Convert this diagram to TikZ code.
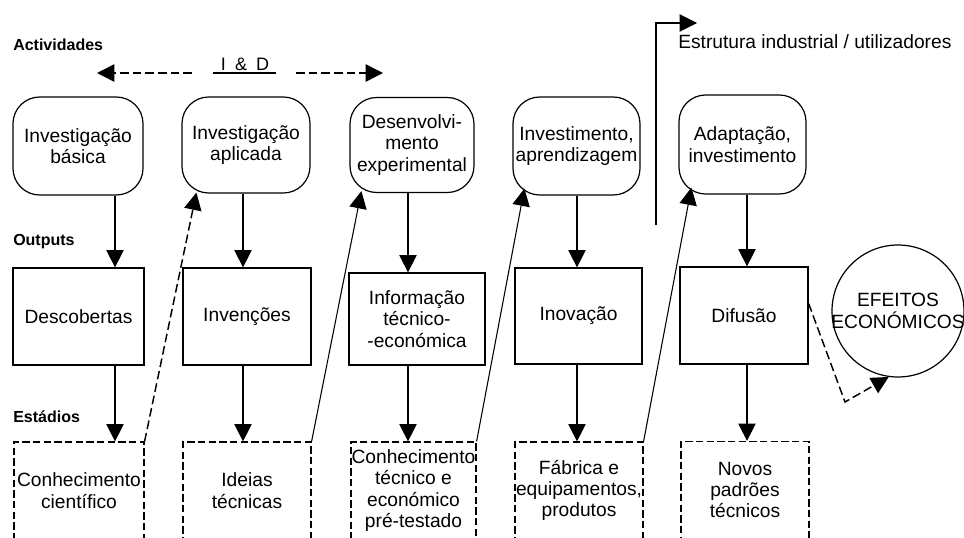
\documentclass[tikz,border=0pt]{standalone}
\usepackage{fontspec}
\setmainfont{Liberation Sans}
\usetikzlibrary{arrows.meta,calc}
\begin{document}
\begin{tikzpicture}[x=0.75pt,y=-0.75pt,
  every node/.style={font=\fontsize{14.4}{16}\selectfont, align=center, inner sep=0pt},
  sz/.style 2 args={minimum width={#1*0.75pt},minimum height={#2*0.75pt}},
  rbox/.style={draw, line width=0.9pt, rounded corners=20pt},
  obox/.style={draw, line width=0.9pt},
  dbox/.style={draw, line width=0.9pt, dash pattern=on 5.5pt off 2.5pt},
  arr/.style={line width=0.8pt, -{Triangle[length=13pt,width=13pt]}},
  dsh/.style={line width=1.1pt, dash pattern=on 6.5pt off 3pt},
  lbl/.style={font=\bfseries\fontsize{12}{14}\selectfont, anchor=west},
]
\useasboundingbox (0,0) rectangle (964,538);
\clip (0,0) rectangle (964,538);

% labels
\node[lbl] (act) at (13,45) {Actividades};
\node[lbl] (out) at (13,242) {Outputs};
\node[lbl] (est) at (13,417) {Estádios};

% I & D
\node[font=\fontsize{13.5}{15}\selectfont] (id) at (245,64) {I\hspace{0.5em}\&\hspace{0.5em}D};
\coordinate (u1) at (213,73);
\coordinate (u2) at (276,73);
\draw[line width=0.9pt] (u1) -- (u2);
\coordinate (a1) at (192,73);
\coordinate (a2) at (97,73);
\coordinate (a3) at (296,73);
\coordinate (a4) at (383,73);
\draw[arr,dsh] (a1) -- (a2);
\draw[arr,dsh] (a3) -- (a4);

% top row
\node[rbox, sz={130}{98}] (T1) at (78,146) {Investigação\\básica};
\node[rbox, sz={128}{96}] (T2) at (246,145) {Investigação\\aplicada};
\node[rbox, sz={124}{95}] (T3) at (412,145) {Desenvolvi-\\mento\\experimental};
\node[rbox, sz={127}{98}] (T4) at (576.5,146) {Investimento,\\aprendizagem};
\node[rbox, sz={127}{99}] (T5) at (742.5,144.5) {Adaptação,\\investimento};

% middle row
\node[obox, sz={131}{97}] (M1) at (78.5,316.5) {Descobertas};
\node[obox, sz={128}{97}] (M2) at (247,316.5) {Invenções};
\node[obox, sz={136}{92}] (M3) at (417,319) {Informação\\técnico-\\-económica};
\node[obox, sz={127}{96}] (M4) at (578.5,316) {Inovação};
\node[obox, sz={128}{97}] (M5) at (744,315.5) {Difusão};

% bottom row
\node[dbox, sz={130}{97}] (B1) at (79,490.5) {Conhecimento\\científico};
\node[dbox, sz={128}{97}] (B2) at (247,490.5) {Ideias\\técnicas};
\node[dbox, sz={125}{97}] (B3) at (413.5,490.5) {Conhecimento\\técnico e\\económico\\pré-testado};
\node[dbox, sz={128}{97}] (B4) at (579,490.5) {Fábrica e\\equipamentos,\\produtos};
\node[dbox, sz={128}{97}] (B5) at (745,490) {Novos\\padrões\\técnicos};

% circle
\node[draw, circle, line width=0.9pt, minimum size={132*0.75pt}] (C) at (898,311) {};
\node (Ct) at (C.center) {EFEITOS\\ECONÓMICOS};

% vertical arrows
\coordinate (x1) at (115,0);
\coordinate (x2) at (243,0);
\coordinate (x3) at (408,0);
\coordinate (x4) at (577,0);
\coordinate (x5) at (747,0);
\draw[arr] (T1.south -| x1) -- (M1.north -| x1);
\draw[arr] (M1.south -| x1) -- (B1.north -| x1);
\draw[arr] (T2.south -| x2) -- (M2.north -| x2);
\draw[arr] (M2.south -| x2) -- (B2.north -| x2);
\draw[arr] (T3.south -| x3) -- (M3.north -| x3);
\draw[arr] (M3.south -| x3) -- (B3.north -| x3);
\draw[arr] (T4.south -| x4) -- (M4.north -| x4);
\draw[arr] (M4.south -| x4) -- (B4.north -| x4);
\draw[arr] (T5.south -| x5) -- (M5.north -| x5);
\draw[arr] (M5.south -| x5) -- (B5.north -| x5);

% diagonal arrows
\draw[arr,dsh] (B1.north east) -- ($(T2.south west)+(15,-1)$);
\draw[arr] (B2.north east) -- ($(T3.south west)+(12,-2)$);
\draw[arr] (B3.north east) -- ($(T4.south west)+(12,-7)$);
\draw[arr] (B4.north east) -- ($(T5.south west)+(13,-7)$);

% Estrutura industrial
\coordinate (e0) at (656,225);
\coordinate (e1) at (656,23);
\coordinate (e2) at (697,23);
\draw[arr] (e0) -- (e1) -- (e2);
\node[anchor=west] (es) at (678,42) {Estrutura industrial / utilizadores};

% to economic effects
\coordinate (k) at (845,402);
\draw[arr,dsh] ($(M5.east)+(0,-12)$) -- (k) -- (C.262);
\end{tikzpicture}
\end{document}
